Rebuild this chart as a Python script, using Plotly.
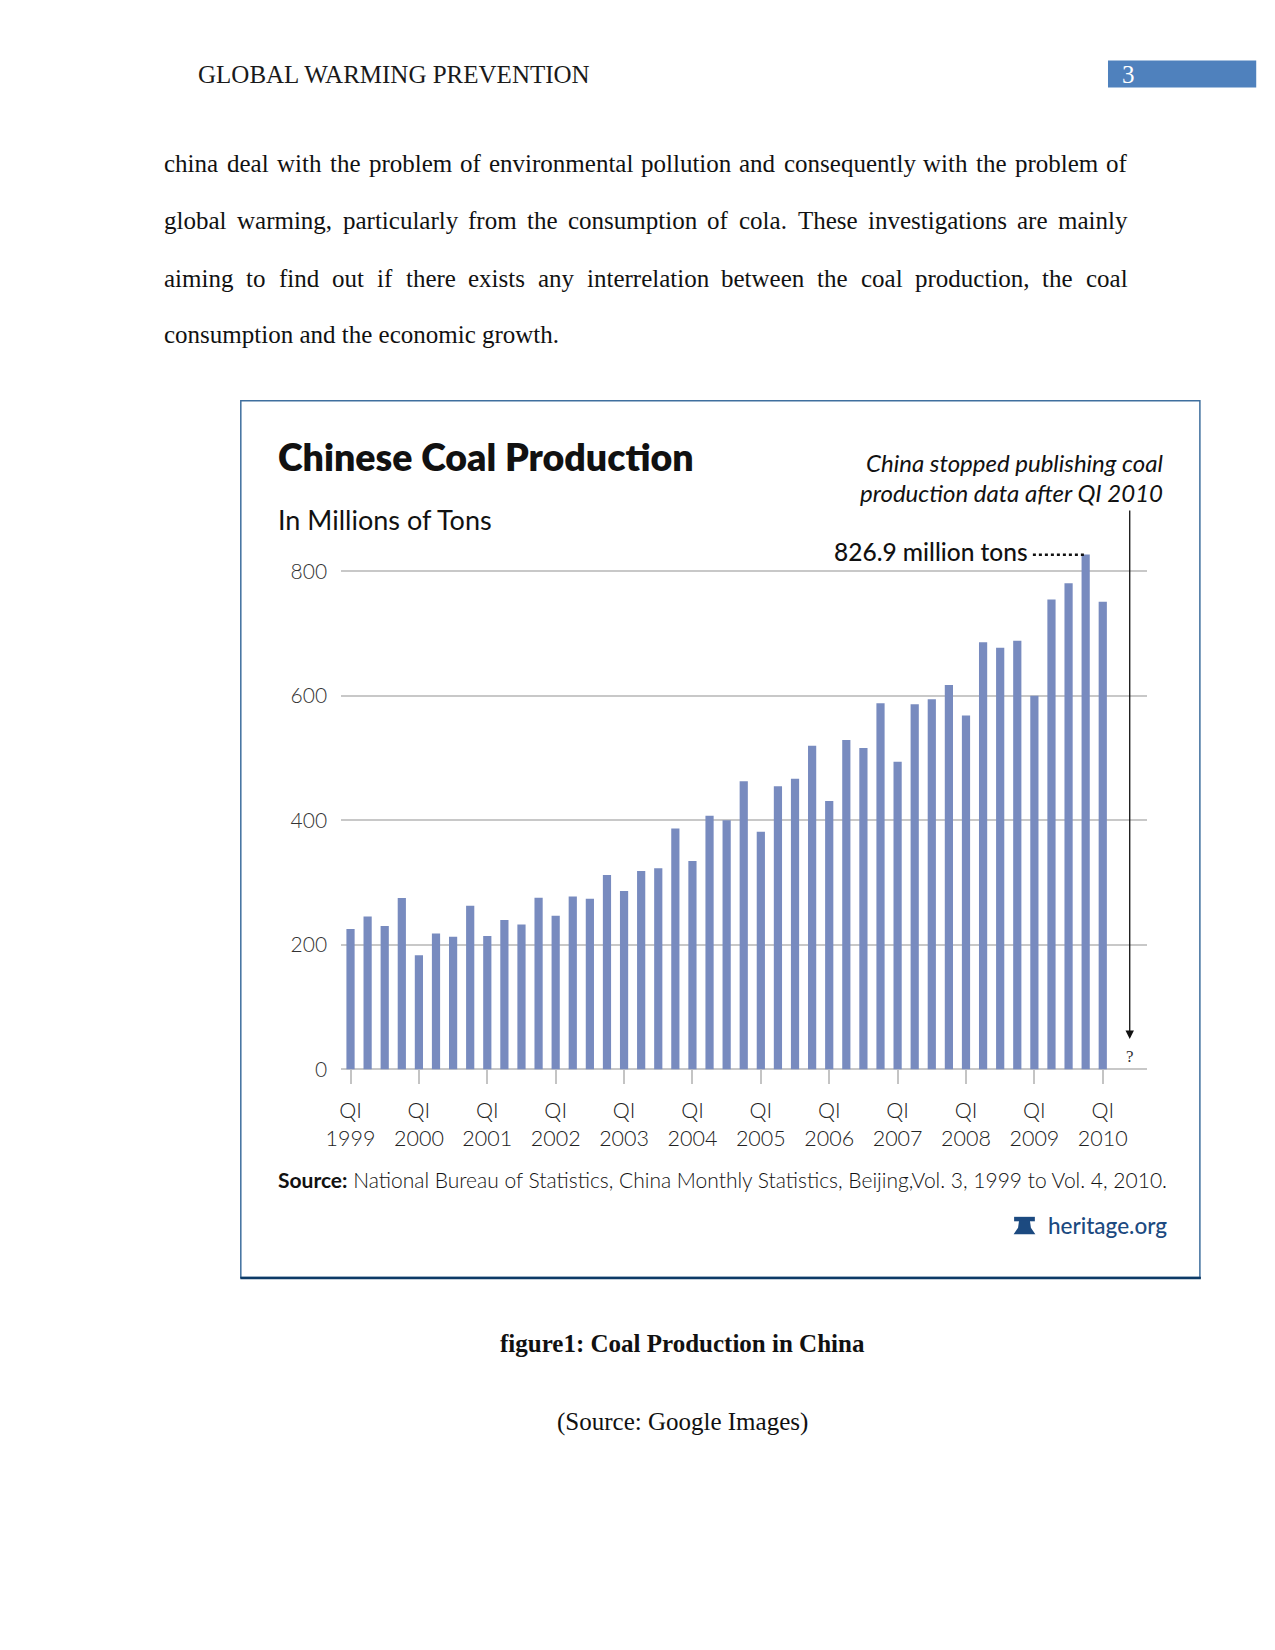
import plotly.graph_objects as go

W, H = 1275, 1650

# ---------------- data ----------------
years = list(range(1999, 2011))
quarters = [f"Q{q} {y}" for y in range(1999, 2010) for q in (1, 2, 3, 4)] + ["Q1 2010"]
production = [225.6, 245.6, 230.2, 275.2, 183.5, 218.2, 213.1, 262.7, 214.2, 239.9,
              232.5, 275.8, 246.7, 277.5, 274.1, 312.2, 286.6, 318.5, 323.1, 386.9,
              334.5, 407.4, 400.0, 462.7, 381.8, 454.7, 466.7, 519.7, 430.8, 528.8,
              516.2, 588.0, 494.0, 586.3, 594.3, 617.1, 568.1, 686.0, 676.9, 688.3,
              600.0, 754.4, 780.6, 826.9, 751.0]
tick_cats = [f"Q1 {y}" for y in years]
tick_text = [f"QI<br>{y}" for y in years]
y_ticks = [0, 200, 400, 600, 800]

body_lines = [
    "china deal with the problem of environmental pollution and consequently with the problem of",
    "global warming, particularly from the consumption of cola. These investigations are mainly",
    "aiming to find out if there exists any interrelation between the coal production, the coal",
    "consumption and the economic growth.",
]

# ---------------- helpers ----------------
def fx(p):
    return p / W

def fy(p):
    return 1 - p / H

# Times / Liberation Serif advance widths (per 1000 em)
TW = {' ': 250, 'a': 444, 'b': 500, 'c': 444, 'd': 500, 'e': 444, 'f': 333, 'g': 500,
      'h': 500, 'i': 278, 'j': 278, 'k': 500, 'l': 278, 'm': 778, 'n': 500, 'o': 500,
      'p': 500, 'q': 500, 'r': 333, 's': 389, 't': 278, 'u': 500, 'v': 500, 'w': 722,
      'x': 500, 'y': 500, 'z': 444, ',': 250, '.': 250, 'T': 611}

def word_w(w, size):
    return sum(TW.get(c, 500) for c in w) / 1000 * size

SERIF = "Liberation Serif"
SANS = "Lato"

fig = go.Figure()
fig.add_trace(go.Bar(x=quarters, y=production, marker_color="#788bbf",
                     marker_line_width=0, width=0.48, hoverinfo="skip"))

# plot area geometry (pixels)
x_left, x_right = 330, 1145
y_zero, y_800 = 1076.6, 575.0
ppu = (y_zero - y_800) / 800
y_top_val = 850
y_top_px = y_zero - y_top_val * ppu

annotations = []
shapes = []

def note(text, x, y, size, family=SANS, anchor="left", color="#111", weight="normal", **kw):
    annotations.append(dict(text=text, x=fx(x), y=fy(y), xref="paper", yref="paper",
                            xanchor=anchor, yanchor="middle", showarrow=False, borderpad=0,
                            font=dict(family=family, size=size, color=color, weight=weight), **kw))

# header
note("GLOBAL WARMING PREVENTION", 184, 75, 25, SERIF, color="#1a1a1a")
shapes.append(dict(type="rect", xref="paper", yref="paper", x0=fx(1106), x1=fx(1256), y0=fy(61), y1=fy(88),
                   fillcolor="#4f81bd", line_width=0, layer="below"))
note("3", 1127, 75, 25, SERIF, anchor="center", color="white")

# body text (justified lines)
line_y = [165, 222, 280, 337]
left, right = 150, 1124
for i, (line, yy) in enumerate(zip(body_lines, line_y)):
    words = line.split(" ")
    if i < len(body_lines) - 1:
        widths = [word_w(w, 25) for w in words]
        gap = (right - left - sum(widths)) / (len(words) - 1)
        xpos = left
        for w, ww in zip(words, widths):
            note(w, xpos, yy, 25, SERIF)
            xpos += ww + gap
    else:
        note(line, left, yy, 25, SERIF)

# chart frame
shapes.append(dict(type="rect", xref="paper", yref="paper", x0=fx(228.5), x1=fx(1199), y0=fy(403.5), y1=fy(1286),
                   line=dict(color="#3f6f9e", width=1.5), layer="below"))
shapes.append(dict(type="line", xref="paper", yref="paper", x0=fx(228), x1=fx(1200), y0=fy(1286.5), y1=fy(1286.5),
                   line=dict(color="#0d3a66", width=2.5)))

# chart titles
note("Chinese Coal Production", 265, 460, 37.5, weight=800)
note("In Millions of Tons", 265, 523, 27)
note("<i>China stopped publishing coal</i>", 1163, 466, 24, anchor="right")
note("<i>production data after QI 2010</i>", 1163, 496, 24, anchor="right")
note("826.9 million tons", 828, 555, 24.5, weight=500)
shapes.append(dict(type="line", xref="paper", yref="paper", x0=fx(1030), x1=fx(1082), y0=fy(558.5), y1=fy(558.5),
                   line=dict(color="#111", width=2.5, dash="dot")))

# arrow + question mark
annotations.append(dict(text="", x=fx(1128), y=fy(1046), xref="paper", yref="paper",
                        ax=0, ay=-(1046 - 516), axref="pixel", ayref="pixel",
                        showarrow=True, arrowhead=2, arrowsize=1.3, arrowwidth=1.3,
                        arrowcolor="#111", standoff=0))
note("?", 1128, 1064, 17, SERIF, anchor="center", color="#333")

# source + logo
note("<b>Source:</b> National Bureau of Statistics, China Monthly Statistics, Beijing,Vol. 3, 1999 to Vol. 4, 2010.",
     265, 1187, 21, weight=300)
note("heritage.org", 1044, 1234, 22.5, color="#1c4a80", weight=500)

def path(pts):
    return "M " + " L ".join(f"{fx(a):.5f},{fy(b):.5f}" for a, b in pts) + " Z"

shapes.append(dict(type="path", xref="paper", yref="paper",
                   path=path([(1011, 1225), (1032, 1225), (1032, 1229.5), (1011, 1229.5)]),
                   fillcolor="#1c4a80", line_width=0))
shapes.append(dict(type="path", xref="paper", yref="paper",
                   path=path([(1016, 1229), (1027, 1229), (1028, 1236), (1032.5, 1242.5), (1010.5, 1242.5), (1015, 1236)]),
                   fillcolor="#1c4a80", line_width=0))

# caption
note("<b>figure1: Coal Production in China</b>", 675, 1353, 25, SERIF, anchor="center")
note("(Source: Google Images)", 675, 1432, 25, SERIF, anchor="center")

n = len(quarters)
fig.update_layout(
    width=W, height=H,
    margin=dict(l=0, r=0, t=0, b=0),
    paper_bgcolor="white", plot_bgcolor="white",
    showlegend=False,
    xaxis=dict(domain=[fx(x_left), fx(x_right)], type="category",
               categoryorder="array", categoryarray=quarters,
               range=[-0.55, n - 1 + 2.56],
               tickmode="array", tickvals=tick_cats, ticktext=tick_text,
               ticks="outside", ticklen=14, tickwidth=1.5, tickcolor="#c4c4c4",
               ticklabelstandoff=8,
               showgrid=False, showline=False, zeroline=False,
               tickfont=dict(family=SANS, size=21.5, color="#222", weight=300),
               fixedrange=True),
    yaxis=dict(domain=[fy(y_zero), fy(y_top_px)], range=[0, y_top_val],
               tickmode="array", tickvals=y_ticks,
               showgrid=True, gridcolor="#c8c8c8", gridwidth=1.5,
               zeroline=True, zerolinecolor="#c8c8c8", zerolinewidth=1.5,
               showline=False, ticks="", ticklabelstandoff=13,
               tickfont=dict(family=SANS, size=21, color="#333", weight=300),
               fixedrange=True),
    annotations=annotations,
    shapes=shapes,
)

fig.write_html("out.html", post_script="document.body.style.margin='0px';",
               config={"displayModeBar": False})
